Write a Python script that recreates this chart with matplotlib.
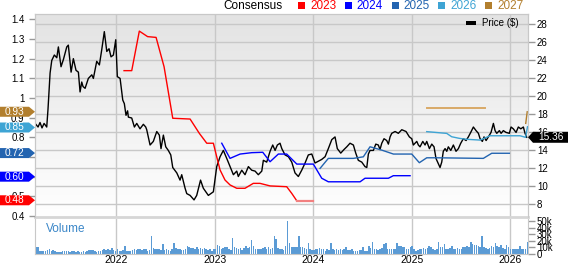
import numpy as np
import matplotlib
matplotlib.use('Agg')
import matplotlib.pyplot as plt
from matplotlib.patches import Polygon, Rectangle
from matplotlib.transforms import IdentityTransform
from matplotlib.colors import LinearSegmentedColormap

plt.rcParams['font.family'] = ['Liberation Sans', 'DejaVu Sans']

# ---------------- data ----------------
years = [2022, 2023, 2024, 2025, 2026]

price_t = [2021.179, 2021.209, 2021.229, 2021.249, 2021.270, 2021.297, 2021.310, 2021.331, 2021.348, 2021.374,
           2021.399, 2021.415, 2021.442, 2021.466, 2021.500, 2021.516, 2021.544, 2021.567, 2021.594, 2021.618,
           2021.635, 2021.652, 2021.665, 2021.686, 2021.719, 2021.754, 2021.770, 2021.804, 2021.831, 2021.855,
           2021.881, 2021.906, 2021.929, 2021.949, 2021.973, 2021.997, 2022.013, 2022.041, 2022.068, 2022.084,
           2022.101, 2022.117, 2022.125, 2022.159, 2022.186, 2022.210, 2022.243, 2022.277, 2022.301, 2022.311,
           2022.345, 2022.378, 2022.413, 2022.439, 2022.456, 2022.480, 2022.504, 2022.530, 2022.555, 2022.575,
           2022.616, 2022.649, 2022.666, 2022.700, 2022.717, 2022.751, 2022.791, 2022.818, 2022.845, 2022.857,
           2022.885, 2022.936, 2022.987, 2023.021, 2023.055, 2023.088, 2023.123, 2023.156, 2023.190, 2023.224,
           2023.240, 2023.275, 2023.308, 2023.342, 2023.376, 2023.410, 2023.443, 2023.478, 2023.494, 2023.528,
           2023.562, 2023.589, 2023.613, 2023.636, 2023.663, 2023.681, 2023.714, 2023.748, 2023.782, 2023.815,
           2023.849, 2023.883, 2023.917, 2023.950, 2023.985, 2024.018, 2024.052, 2024.086, 2024.120, 2024.153,
           2024.188, 2024.221, 2024.244, 2024.279, 2024.312, 2024.340, 2024.373, 2024.407, 2024.431, 2024.457,
           2024.492, 2024.525, 2024.543, 2024.559, 2024.576, 2024.610, 2024.634, 2024.660, 2024.677, 2024.695,
           2024.718, 2024.745, 2024.762, 2024.779, 2024.796, 2024.830, 2024.863, 2024.898, 2024.941, 2024.975,
           2024.999, 2025.015, 2025.050, 2025.066, 2025.083, 2025.111, 2025.134, 2025.151, 2025.178, 2025.202,
           2025.225, 2025.245, 2025.269, 2025.286, 2025.303, 2025.319, 2025.337, 2025.354, 2025.370, 2025.395,
           2025.421, 2025.448, 2025.472, 2025.496, 2025.522, 2025.550, 2025.573, 2025.597, 2025.624, 2025.651,
           2025.675, 2025.692, 2025.715, 2025.732, 2025.753, 2025.776, 2025.803, 2025.827, 2025.844, 2025.861,
           2025.888, 2025.905, 2025.928, 2025.955, 2025.989, 2026.006, 2026.029, 2026.057, 2026.080, 2026.105,
           2026.131, 2026.148, 2026.165]
price_v = [16.9, 16.5, 17.0, 16.4, 16.9, 16.5, 18.5, 22.5, 23.9, 24.5,
           24.2, 25.4, 23.2, 24.0, 25.4, 25.6, 22.6, 24.1, 22.8, 22.6,
           20.4, 21.5, 21.0, 20.8, 21.9, 22.3, 21.9, 23.8, 23.4, 25.1,
           27.1, 24.9, 25.2, 24.3, 24.5, 26.2, 22.1, 21.9, 19.5, 19.1,
           17.8, 18.3, 17.6, 17.5, 16.5, 16.9, 16.3, 16.8, 16.5, 16.2,
           14.5, 14.9, 16.0, 15.6, 14.1, 15.6, 14.3, 13.9, 13.4, 12.0,
           11.4, 10.6, 11.2, 9.7, 9.1, 8.9, 8.4, 8.9, 10.1, 10.6,
           9.7, 8.9, 9.3, 12.1, 13.2, 13.9, 13.0, 12.1, 11.2, 11.6,
           11.0, 11.7, 11.2, 12.1, 11.7, 11.6, 11.2, 11.6, 12.8, 12.6,
           13.8, 14.5, 13.9, 14.5, 14.7, 14.1, 13.4, 13.2, 12.6, 11.4,
           11.0, 11.7, 12.5, 13.4, 13.5, 12.5, 12.7, 12.9, 13.2, 14.1,
           15.1, 15.4, 14.1, 13.6, 14.0, 14.3, 14.7, 14.5, 13.6, 12.8,
           12.6, 12.1, 12.0, 13.5, 13.9, 13.9, 14.6, 14.5, 14.0, 14.7,
           15.2, 15.0, 14.6, 15.4, 15.8, 16.0, 15.8, 16.2, 16.0, 15.4,
           15.2, 14.5, 14.9, 14.5, 14.3, 14.9, 14.5, 14.9, 14.1, 14.6,
           14.3, 13.0, 12.4, 12.0, 12.6, 13.8, 14.1, 13.8, 14.3, 13.9,
           14.5, 13.8, 14.1, 14.7, 15.2, 15.0, 15.4, 15.9, 16.5, 16.1,
           15.8, 15.2, 14.9, 15.4, 15.0, 15.4, 15.9, 16.9, 16.1, 15.8,
           16.1, 15.8, 16.1, 15.9, 15.8, 16.5, 16.3, 15.9, 16.5, 16.3,
           16.5, 15.8, 15.36]
last_price = 15.36

# consensus EPS estimates (left axis)
e2023_t = [2022.081, 2022.159, 2022.236, 2022.320, 2022.406, 2022.487, 2022.575, 2022.751, 2022.845, 2022.920,
           2022.987, 2023.021, 2023.055, 2023.105, 2023.156, 2023.224, 2023.308, 2023.392, 2023.460, 2023.562,
           2023.731, 2023.782, 2023.832, 2024.001]
e2023_v = [1.139, 1.139, 1.340, 1.312, 1.308, 1.159, 0.897, 0.893, 0.820, 0.770,
           0.770, 0.701, 0.634, 0.583, 0.558, 0.541, 0.541, 0.566, 0.566, 0.553,
           0.549, 0.515, 0.478, 0.478]
e2024_t = [2023.072, 2023.156, 2023.258, 2023.376, 2023.488, 2023.562, 2023.646, 2023.731, 2023.833, 2024.001,
           2024.086, 2024.153, 2024.475, 2024.525, 2024.762, 2024.812, 2024.982]
e2024_v = [0.770, 0.693, 0.715, 0.722, 0.724, 0.676, 0.715, 0.715, 0.664, 0.664,
           0.592, 0.574, 0.574, 0.592, 0.592, 0.605, 0.605]
e2025_t = [2024.069, 2024.153, 2024.407, 2024.508, 2024.576, 2024.695, 2024.813, 2024.999, 2025.076, 2025.151,
           2025.253, 2025.725, 2025.810, 2025.989]
e2025_v = [0.642, 0.693, 0.693, 0.701, 0.752, 0.735, 0.715, 0.715, 0.671, 0.696,
           0.696, 0.693, 0.719, 0.719]
e2026_t = [2025.151, 2025.354, 2025.404, 2025.480, 2025.557, 2025.692, 2025.793, 2026.097, 2026.153, 2026.173]
e2026_v = [0.829, 0.820, 0.803, 0.795, 0.790, 0.786, 0.808, 0.808, 0.800, 0.854]
e2027a_t = [2025.157, 2025.742]
e2027a_v = [0.951, 0.951]
e2027b_t = [2026.155, 2026.170]
e2027b_v = [0.871, 0.930]

tag_values = [0.93, 0.85, 0.72, 0.60, 0.48]
tag_labels = ['0.93', '0.85', '0.72', '0.60', '0.48']

series_names = ['2023', '2024', '2025', '2026', '2027']
series_colors = ['#ff0000', '#0000ff', '#2364b0', '#3ea4d4', '#b27f2e']

eps_ticks = [0.4, 0.5, 0.6, 0.7, 0.8, 0.9, 1.0, 1.1, 1.2, 1.3, 1.4]
eps_hidden = [0.6, 0.7]   # fully covered by the value tags

# weekly volume (thousands)
volume_k = [11, 10, 4, 4, 5, 4, 6, 7, 5, 6,
            4, 3, 3, 3, 5, 4, 4, 4, 3, 4,
            4, 3, 4, 3, 3, 4, 3, 4, 6, 6,
            6, 4, 3, 4, 5, 6, 7, 6, 7, 6,
            9, 6, 5, 7, 5, 5, 6, 12, 5, 4,
            5, 6, 7, 6, 8, 7, 6, 8, 7, 5,
            6, 28, 9, 8, 7, 7, 6, 15, 6, 7,
            6, 5, 7, 16, 9, 8, 7, 6, 6, 7,
            12, 10, 9, 9, 8, 10, 8, 9, 7, 9,
            8, 6, 7, 5, 7, 8, 14, 12, 8, 9,
            10, 10, 8, 6, 24, 10, 9, 8, 9, 6,
            9, 12, 9, 10, 21, 12, 8, 7, 8, 8,
            9, 10, 8, 10, 7, 9, 27, 22, 9, 8,
            7, 6, 12, 50, 16, 10, 10, 11, 11, 28,
            11, 10, 9, 8, 16, 8, 6, 6, 7, 8,
            9, 8, 7, 5, 7, 6, 17, 8, 6, 7,
            6, 7, 6, 8, 10, 6, 6, 7, 5, 5,
            5, 6, 6, 10, 4, 5, 12, 9, 18, 8,
            7, 6, 7, 9, 15, 17, 8, 8, 8, 7,
            8, 17, 12, 12, 11, 10, 8, 8, 10, 12,
            7, 5, 6, 7, 8, 9, 7, 9, 12, 10,
            8, 6, 7, 18, 11, 10, 15, 7, 8, 9,
            12, 8, 7, 9, 8, 8, 10, 11, 12, 10,
            18, 15, 14, 13, 12, 10, 28, 10, 9, 8,
            9, 12, 11, 16, 12, 11, 14, 9, 8, 13,
            10, 8, 7, 7, 7, 7, 12, 7, 7, 8,
            18]
vol_start = 2021.19
vol_ticks = [0, 10, 20, 30, 40, 50]

# ---------------- layout ----------------
W, H = 568, 264
fig = plt.figure(figsize=(W / 100, H / 100), dpi=100)
L, R, T, B = 35, 528, 14, 217
VT, VB = 219, 254
ax = fig.add_axes([L / W, 1 - B / H, (R - L) / W, (B - T) / H])
axv = fig.add_axes([L / W, 1 - VB / H, (R - L) / W, (VB - VT) / H])
ax2 = ax.twinx()

XMIN, XMAX = 2021.178, 2026.178
GRID = '#c8c8c8'

# gradient background
cmap = LinearSegmentedColormap.from_list('bg', ['#ffffff', '#e3e3e3'])
grad = np.linspace(0, 1, 256).reshape(-1, 1)
ax.imshow(grad, extent=[0, 1, 0, 1], transform=ax.transAxes, aspect='auto',
          cmap=cmap, origin='lower', zorder=-10)

# price
ax.plot(price_t, price_v, color='black', lw=1.0, zorder=3)
ax.set_xlim(XMIN, XMAX)
ax.set_ylim(6.5, 29.06)
ax.set_yticks(range(8, 29, 2))
ax.set_xticks(years)
ax.grid(True, color=GRID, lw=1, zorder=0)
ax.set_axisbelow(True)
ax.tick_params(axis='x', length=0, labelbottom=False)
ax.yaxis.set_ticks_position('right')
ax.tick_params(axis='y', right=True, left=False, labelright=True, labelleft=False,
               length=5, width=1, color='#999999', labelsize=7, pad=1.5)

# estimates
ax2.set_ylim(0.395, 1.427)
ax2.yaxis.set_ticks_position('left')
ax2.set_yticks(eps_ticks)
ax2.set_yticklabels(['' if v in eps_hidden else '%g' % v for v in eps_ticks])
ax2.tick_params(axis='y', left=True, right=False, labelleft=True, labelright=False,
                length=4.5, width=1, color='#999999', labelsize=7, pad=3)
ax2.plot(e2023_t[:-1], e2023_v[:-1], color=series_colors[0], lw=1)
ax2.plot(e2023_t[-2:], e2023_v[-2:], color='#f28080', lw=1.6)
ax2.plot(e2024_t, e2024_v, color=series_colors[1], lw=1)
ax2.plot(e2025_t, e2025_v, color=series_colors[2], lw=1)
ax2.plot(e2026_t, e2026_v, color=series_colors[3], lw=1)
ax2.plot(e2027a_t, e2027a_v, color='#d9aa68', lw=1.4)
ax2.plot(e2027b_t, e2027b_v, color=series_colors[4], lw=1)

for a in (ax, ax2):
    for s in a.spines.values():
        s.set_color(GRID)
ax.spines['bottom'].set_color('#d6d6d6')
ax.spines['bottom'].set_linewidth(2)
ax2.spines['bottom'].set_visible(False)

# volume
vol_t = vol_start + np.arange(len(volume_k)) / 52.18
axv.bar(vol_t, np.array(volume_k) * 1000, width=0.8 / 52.18, color='#5b9bd5', lw=0, zorder=2)
axv.set_xlim(XMIN, XMAX)
axv.set_ylim(0, 53000)
axv.set_xticks(years)
axv.set_xticklabels([str(y) for y in years])
axv.set_yticks([v * 1000 for v in vol_ticks])
axv.set_yticklabels(['0' if v == 0 else '%dk' % v for v in vol_ticks])
axv.yaxis.set_ticks_position('right')
axv.tick_params(axis='y', right=True, left=False, labelright=True, labelleft=False,
                length=5, width=1, color='#999999', labelsize=7, pad=1.5)
axv.tick_params(axis='x', length=0, labelsize=7.5, pad=0.8)
axv.grid(True, axis='x', color=GRID, lw=1, zorder=0)
axv.set_axisbelow(True)
for s in axv.spines.values():
    s.set_color(GRID)
axv.spines['top'].set_visible(False)
axv.text(0.022, 0.72, 'Volume', transform=axv.transAxes, fontsize=8.5,
         color='#3a86c8', va='center', ha='left')

fig.canvas.draw()

# left tags
for v, lab, col in zip(tag_values, tag_labels, series_colors[::-1]):
    xd, yd = ax2.transData.transform((XMIN, v))
    h = 5.0
    poly = Polygon([[0, yd - h], [xd - 6, yd - h], [xd, yd], [xd - 6, yd + h], [0, yd + h]],
                   closed=True, facecolor=col, edgecolor='none', transform=IdentityTransform(), zorder=10)
    fig.add_artist(poly)
    fig.text((xd - 6) / 2 / W, yd / H, lab, color='white', fontsize=7.3,
             ha='center', va='center', zorder=11)

# right price tag
xr, yr = ax.transData.transform((XMAX, last_price))
h = 5.5
poly = Polygon([[xr, yr], [xr + 5, yr + h], [W, yr + h], [W, yr - h], [xr + 5, yr - h]],
               closed=True, facecolor='black', edgecolor='none', transform=IdentityTransform(), zorder=10)
fig.add_artist(poly)
fig.text((xr + 5 + W) / 2 / W, yr / H, '%.2f' % last_price, color='white', fontsize=7.3,
         ha='center', va='center', zorder=11)

# top legend
fig.text(223 / W, 1 - 6 / H, 'Consensus', fontsize=8.5, color='black', ha='left', va='center')
for i, (name, col) in enumerate(zip(series_names, series_colors)):
    x0 = 298 + i * 46.8
    fig.add_artist(Rectangle((x0 / W, 1 - 9 / H), 7 / W, 6.5 / H, transform=fig.transFigure,
                             facecolor=col, edgecolor='none'))
    fig.text((x0 + 12) / W, 1 - 6 / H, name, fontsize=8.5, color=col, ha='left', va='center')

# price legend inside
ax.add_patch(Rectangle((0.874, 0.945), 0.02, 0.02, transform=ax.transAxes,
                       facecolor='black', edgecolor='none', zorder=5))
ax.text(0.906, 0.955, 'Price ($)', transform=ax.transAxes, fontsize=7, va='center', ha='left', zorder=5)

fig.savefig('out.png', dpi=100)
